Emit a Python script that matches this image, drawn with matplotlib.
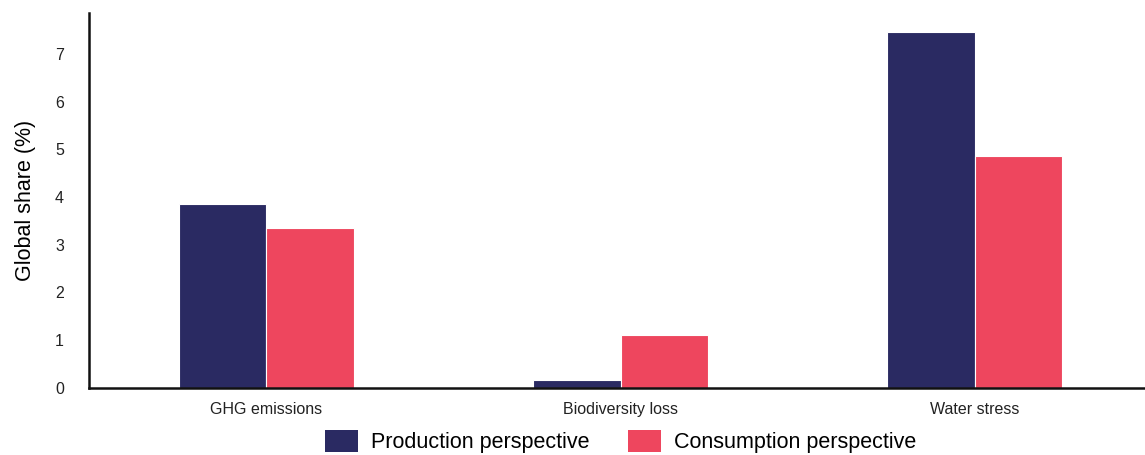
import matplotlib
matplotlib.use("Agg")
import matplotlib.pyplot as plt
import numpy as np
from matplotlib.patches import Patch

categories = ["GHG emissions", "Biodiversity loss", "Water stress"]
production = [3.85, 0.16, 7.47]
consumption = [3.35, 1.10, 4.87]
series_labels = ["Production perspective", "Consumption perspective"]
yticks = [0, 1, 2, 3, 4, 5, 6, 7]

navy = "#2a2a62"
red = "#ee465e"

plt.rcParams["font.family"] = ["Liberation Sans", "DejaVu Sans"]

fig = plt.figure(figsize=(11.45, 4.55), dpi=100)
ax = fig.add_axes([0.0777, 0.148, 0.9223, 0.824])

x = np.arange(len(categories))
w = 0.247
ax.bar(x - w / 2, production, width=w, color=navy, edgecolor="white", linewidth=0.8)
ax.bar(x + w / 2, consumption, width=w, color=red, edgecolor="white", linewidth=0.8)

ax.set_xlim(-0.5, 2.48)
ax.set_ylim(0, 7.87)
ax.set_yticks(yticks)
ax.set_xticks(x)
ax.set_xticklabels(categories)
ax.tick_params(axis="both", length=0, labelsize=11.5, colors="#222222")
ax.tick_params(axis="y", pad=18)
ax.tick_params(axis="x", pad=10)

for s in ["top", "right"]:
    ax.spines[s].set_visible(False)
for s in ["left", "bottom"]:
    ax.spines[s].set_linewidth(1.8)
    ax.spines[s].set_color("#111111")

ax.set_ylabel("Global share (%)", fontsize=15.5, labelpad=14)

handles = [Patch(facecolor=navy), Patch(facecolor=red)]
fig.legend(handles, series_labels, loc="lower center", bbox_to_anchor=(0.542, -0.038),
           ncol=2, frameon=False, fontsize=15.5, handlelength=1.55, handleheight=1.2,
           handletextpad=0.6, columnspacing=1.8)

fig.savefig("out.png", dpi=100)
